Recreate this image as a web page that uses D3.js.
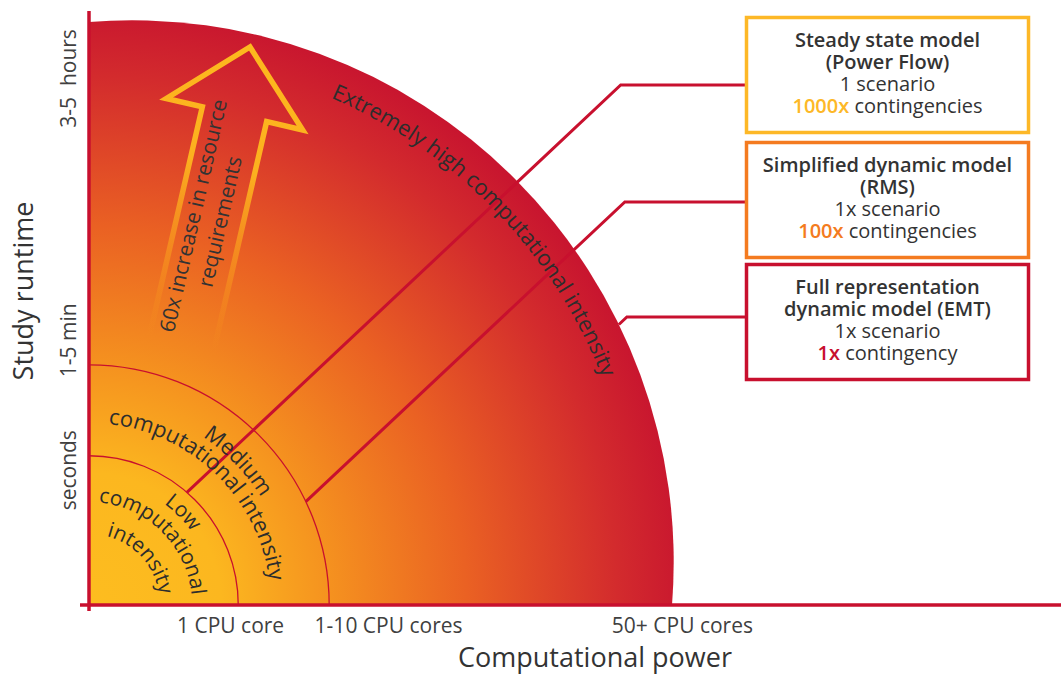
<!DOCTYPE html>
<html><head><meta charset="utf-8">
<script src="https://cdn.jsdelivr.net/npm/d3@7"></script>
<style>
html,body{margin:0;padding:0;background:#fff;}
svg{display:block;font-family:"Open Sans","Noto Sans",sans-serif;}
</style></head>
<body><svg id="c" width="1061" height="675"></svg>
<script>
// ---------------- data ----------------
const zoneLabels = [["Low", "computational", "intensity"], ["Medium", "computational intensity"], ["Extremely high computational intensity"]];
const zoneReach = [25.6, 41.2, 100];          // relative reach of each intensity zone (% of max)
const xTickValues = [24.2, 51.3, 101.7];
const xTickLabels = ["1 CPU core", "1-10 CPU cores", "50+ CPU cores"];
const yTickValues = [23.2, 45.5, 90.4];
const yTickLabels = ["seconds", "1-5 min", "3-5  hours"];
const modelTitles = [["Steady state model", "(Power Flow)"], ["Simplified dynamic model", "(RMS)"], ["Full representation", "dynamic model (EMT)"]];
const modelScenarios = ["1 scenario", "1x scenario", "1x scenario"];
const modelMultipliers = ["1000x", "100x", "1x"];
const modelCases = ["contingencies", "contingencies", "contingency"];
const arrowLabel = ["60x increase in resource", "requirements"];
const xTitle = "Computational power";
const yTitle = "Study runtime";

// ---------------- layout ----------------
const W = 1061, H = 675;
const ox = 89, oy = 605, rMax = 583;
const deg = Math.PI / 180;
const crimson = "#c8102e";
const zoneColors = ["#fdb827", "#f47b20", "#c8102e"];
const textCol = "#333";

const x = d3.scaleLinear().domain([0, 100]).range([ox, ox + rMax]);
const y = d3.scaleLinear().domain([0, 100]).range([oy, oy - rMax]);
const r = d3.scaleLinear().domain([0, 100]).range([0, rMax]);

const svg = d3.select("#c");
const defs = svg.append("defs");

// heat gradient
const heat = defs.append("radialGradient").attr("id", "heat")
  .attr("gradientUnits", "userSpaceOnUse").attr("cx", ox).attr("cy", oy).attr("r", r(103));
[[0, "#fdbd1f"], [0.22, "#fcb71f"], [0.4, "#f5921f"], [0.63, "#ea6123"], [0.88, "#d32b2d"], [1, "#c8152f"]]
  .forEach(([o, c]) => heat.append("stop").attr("offset", o).attr("stop-color", c));

// arrow gradient
const ag = defs.append("linearGradient").attr("id", "arrowGrad")
  .attr("gradientUnits", "userSpaceOnUse").attr("x1", 0).attr("y1", 0).attr("x2", 0).attr("y2", 305);
[[0, "#fdb81e", 1], [0.4, "#fcb01f", 1], [0.75, "#f8981d", 0.6], [1, "#f7941d", 0]]
  .forEach(([o, c, op]) => ag.append("stop").attr("offset", o).attr("stop-color", c).attr("stop-opacity", op));

// outer (extreme) zone boundary: circle slightly offset along the diagonal
const bulge = 43;
const ocx = ox + bulge, ocy = oy - bulge;
const R = Math.hypot(bulge, r(zoneReach[2]) - bulge);
const phiTop = Math.asin(-bulge / R) / deg;
const phiRight = Math.acos(-bulge / R) / deg;
const outerPt = phi => [ocx + R * Math.sin(phi * deg), ocy - R * Math.cos(phi * deg)];

const outer = d3.path();
outer.moveTo(ox, oy);
outer.lineTo(...outerPt(phiTop));
outer.arc(ocx, ocy, R, (phiTop - 90) * deg, (phiRight - 90) * deg);
outer.closePath();
svg.append("path").attr("d", outer.toString()).attr("fill", "url(#heat)");

// inner zone rings
[0, 1].forEach(i => {
  const rr = r(zoneReach[i]);
  const p = d3.path();
  p.moveTo(ox, oy - rr);
  p.arc(ox, oy, rr, -Math.PI / 2, 0);
  svg.append("path").attr("d", p.toString()).attr("fill", "none")
    .attr("stroke", crimson).attr("stroke-width", 1.3);
});

// arrow
const arrowG = svg.append("g").attr("transform", "translate(250,47) rotate(13)");
arrowG.append("path")
  .attr("d", "M-33,305 L-33,69 L-70,69 L0,0 L70,69 L33,69 L33,305")
  .attr("fill", "none").attr("stroke", "url(#arrowGrad)").attr("stroke-width", 5.5)
  .attr("stroke-linejoin", "miter").attr("stroke-miterlimit", 10);
arrowG.append("text")
  .attr("transform", "translate(-10,177) rotate(-90)")
  .attr("text-anchor", "middle").attr("font-size", 21).attr("fill", textCol)
  .selectAll("tspan").data(arrowLabel).join("tspan")
  .attr("x", 0).attr("dy", (d, i) => i ? "1.3em" : 0).text(d => d);

// leader lines from zones to model boxes
const boxX = 746.5, boxW = 282, boxH = 115;
const boxTop = [17.5, 142.5, 264.5];
const leaderY = [85, 202, 317];
const leaderPhi = [41, 64.5, 64];
const slope = Math.tan(43.2 * deg);
leaderY.forEach((ly, i) => {
  let s;
  if (i < 2) {
    const rr = r(zoneReach[i]);
    s = [ox + rr * Math.sin(leaderPhi[i] * deg), oy - rr * Math.cos(leaderPhi[i] * deg)];
  } else s = outerPt(leaderPhi[i]);
  const k = [s[0] + (s[1] - ly) / slope, ly];
  svg.append("path").attr("d", d3.line()([s, k, [boxX - 1, ly]]))
    .attr("fill", "none").attr("stroke", crimson).attr("stroke-width", 3);
});

// curved zone labels
function arcLabel(cx, cy, rr, phiMid, txt, size, id) {
  const p = d3.path();
  const a0 = (phiMid - 85 - 90) * deg, a1 = (phiMid + 85 - 90) * deg;
  p.moveTo(cx + rr * Math.cos(a0), cy + rr * Math.sin(a0));
  p.arc(cx, cy, rr, a0, a1);
  defs.append("path").attr("id", id).attr("d", p.toString());
  svg.append("text").attr("font-size", size).attr("fill", "#2d2d2d")
    .append("textPath").attr("href", "#" + id).attr("startOffset", "50%")
    .attr("text-anchor", "middle").text(txt);
}
const labelLayout = [
  [{ t: 0, r: 126, phi: 45.5, s: 21 }, { t: 0, r: 103, phi: 45, s: 21 }, { t: 0, r: 71, phi: 48, s: 21 }],
  [{ t: 0, r: 203, phi: 46, s: 22 }, { t: 0, r: 182, phi: 44.3, s: 22 }],
  [{ t: -bulge, r: 505, phi: 45.9, s: 22 }]
];
zoneLabels.forEach((lines, zi) => lines.forEach((txt, li) => {
  const L = labelLayout[zi][li];
  arcLabel(ox - L.t, oy + L.t, L.r, L.phi, txt, L.s, `z${zi}_${li}`);
}));

// axes lines
svg.append("line").attr("x1", ox).attr("x2", ox).attr("y1", 11).attr("y2", 611)
  .attr("stroke", crimson).attr("stroke-width", 3.5);
svg.append("line").attr("x1", 80).attr("x2", W).attr("y1", oy).attr("y2", oy)
  .attr("stroke", crimson).attr("stroke-width", 3.5);

// x tick labels
const gx = svg.append("g").attr("transform", `translate(0,${oy})`)
  .call(d3.axisBottom(x).tickValues(xTickValues).tickFormat((d, i) => xTickLabels[i]).tickSize(0));
gx.select(".domain").remove();
gx.selectAll("text").attr("y", 28).attr("dy", 0).attr("font-size", 21)
  .attr("font-family", "Open Sans").attr("fill", "#404040");

// y tick labels
const gy = svg.append("g").attr("transform", `translate(${ox},0)`)
  .call(d3.axisLeft(y).tickValues(yTickValues).tickFormat((d, i) => yTickLabels[i]).tickSize(0));
gy.select(".domain").remove();
gy.selectAll("text").attr("x", 0).attr("y", 0).attr("dy", 0)
  .attr("transform", `translate(${75.5 - ox},0) rotate(-90)`)
  .attr("text-anchor", "middle").attr("font-size", 21)
  .attr("font-family", "Open Sans").attr("fill", "#404040").style("white-space", "pre");

// axis titles
svg.append("text").attr("x", 595).attr("y", 667).attr("text-anchor", "middle")
  .attr("font-size", 27).attr("fill", "#333").text(xTitle);
svg.append("text").attr("transform", "translate(33,291) rotate(-90)").attr("text-anchor", "middle")
  .attr("font-size", 27).attr("fill", "#333").text(yTitle);

// model boxes
boxTop.forEach((bt, i) => {
  svg.append("rect").attr("x", boxX).attr("y", bt).attr("width", boxW).attr("height", boxH)
    .attr("fill", "#fff").attr("stroke", zoneColors[i]).attr("stroke-width", 3.5);
  const cx = boxX + boxW / 2;
  const t = svg.append("text").attr("text-anchor", "middle").attr("font-size", 20).attr("fill", "#333");
  modelTitles[i].forEach((line, j) => {
    t.append("tspan").attr("x", cx).attr("y", bt + 29.5 + 22 * j).attr("font-weight", 600).text(line);
  });
  t.append("tspan").attr("x", cx).attr("y", bt + 29.5 + 44).text(modelScenarios[i]);
  t.append("tspan").attr("x", cx).attr("y", bt + 29.5 + 66).attr("fill", zoneColors[i])
    .attr("font-weight", 600).text(modelMultipliers[i]);
  t.append("tspan").text(" " + modelCases[i]);
});
</script>
</body></html>
